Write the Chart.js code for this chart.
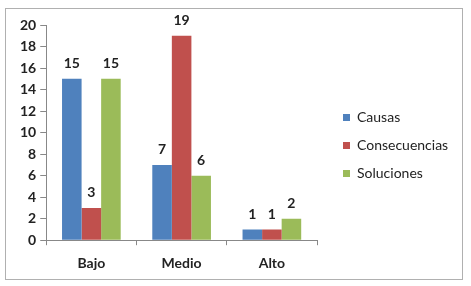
<!DOCTYPE html>
<html>
<head>
<meta charset="utf-8">
<script src="https://cdn.jsdelivr.net/npm/chart.js@4.4.1/dist/chart.umd.min.js"></script>
<style>
  html, body { margin: 0; padding: 0; background: #fff; }
  #frame { position: absolute; left: 5px; top: 8px; width: 456px; height: 270px; border: 1px solid #b0b0b0; }
  #wrap { position: absolute; left: 0; top: 0; width: 471px; height: 286px; }
</style>
</head>
<body>
<div id="frame"></div>
<div id="wrap"><canvas id="chart" width="471" height="286"></canvas></div>
<script>
// categorías y series
const categories    = ['Bajo', 'Medio', 'Alto'];
const causas        = [15, 7, 1];
const consecuencias = [3, 19, 1];
const soluciones    = [15, 6, 2];
const yTicks        = { min: 0, max: 20, step: 2 };

const FONT = 'Lato, "Open Sans", sans-serif';

// etiquetas de valor encima de cada barra
const valueLabels = {
  id: 'valueLabels',
  afterDatasetsDraw(chart) {
    const ctx = chart.ctx;
    ctx.save();
    ctx.font = 'bold 14px ' + FONT;
    ctx.fillStyle = '#222';
    ctx.textAlign = 'center';
    ctx.textBaseline = 'bottom';
    chart.data.datasets.forEach((ds, i) => {
      chart.getDatasetMeta(i).data.forEach((bar, j) => {
        ctx.fillText(String(ds.data[j]), bar.x, bar.y - 8);
      });
    });
    ctx.restore();
  }
};

// la leyenda lateral queda limitada a un ancho pequeño; le damos el ancho que necesita
// y la subimos un poco para que quede como en el original
const legendFit = {
  id: 'legendFit',
  beforeLayout(chart) {
    const lg = chart.legend;
    if (lg && !lg._wideFit) {
      const orig = lg.fit;
      lg.fit = function () { orig.call(this); this.width = 126; };
      lg._wideFit = true;
    }
  },
  afterLayout(chart) {
    const lg = chart.legend;
    if (lg) { lg.top -= 8; lg.bottom -= 8; }
  }
};

new Chart(document.getElementById('chart'), {
  type: 'bar',
  data: {
    labels: categories,
    datasets: [
      { label: 'Causas',        data: causas,        backgroundColor: '#4F81BD' },
      { label: 'Consecuencias', data: consecuencias, backgroundColor: '#C0504D' },
      { label: 'Soluciones',    data: soluciones,    backgroundColor: '#9BBB59' }
    ]
  },
  options: {
    responsive: false,
    animation: false,
    devicePixelRatio: 1,
    layout: { padding: { left: 16, top: 25, right: 16, bottom: 4 } },
    datasets: { bar: { categoryPercentage: 0.65, barPercentage: 1.0 } },
    scales: {
      x: {
        grid: { display: true, drawOnChartArea: false, drawTicks: true, tickLength: 5, color: '#888', offset: true },
        border: { display: true, color: '#888' },
        ticks: { color: '#222', font: { family: FONT, size: 14, weight: 'bold' }, padding: 10 }
      },
      y: {
        min: yTicks.min,
        max: yTicks.max,
        grid: { display: true, drawOnChartArea: false, drawTicks: true, tickLength: 6, color: '#888' },
        border: { display: true, color: '#888' },
        ticks: { stepSize: yTicks.step, color: '#222', font: { family: FONT, size: 14, weight: 'bold' }, padding: 4 }
      },
      gap: {
        // eje invisible: sólo deja espacio entre el área del gráfico y la leyenda
        position: 'right',
        display: true,
        grid: { display: false },
        border: { display: false },
        ticks: { display: false },
        afterFit(scale) { scale.width = 12; }
      }
    },
    plugins: {
      legend: {
        position: 'right',
        labels: {
          boxWidth: 7,
          boxHeight: 7,
          padding: 14,
          color: '#222',
          font: { family: FONT, size: 14 }
        }
      },
      tooltip: { enabled: false }
    }
  },
  plugins: [valueLabels, legendFit]
});
</script>
</body>
</html>
